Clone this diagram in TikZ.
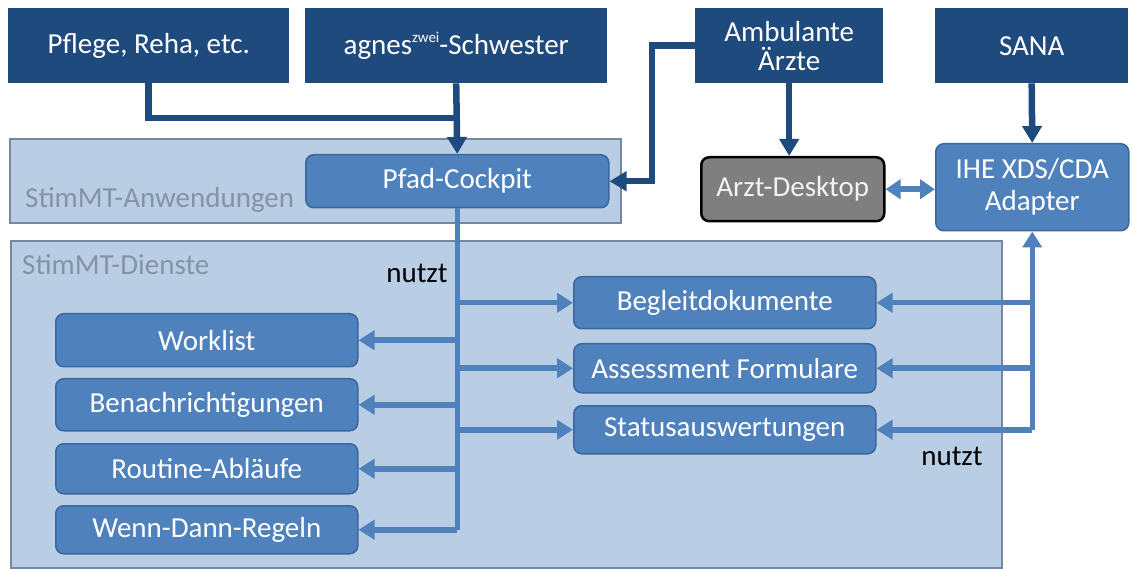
\documentclass[tikz,border=0pt]{standalone}
\usepackage{fontspec}
\setmainfont{Carlito}
\usetikzlibrary{arrows.meta}
\definecolor{navy}{HTML}{1F4A7E}
\definecolor{midblue}{HTML}{4F81BD}
\definecolor{midedge}{HTML}{3A679C}
\definecolor{pale}{HTML}{B9CDE5}
\definecolor{paleedge}{HTML}{7688A0}
\definecolor{labelgray}{HTML}{8593A5}
\definecolor{desk}{HTML}{7F7F7F}
\tikzset{
  box/.style={anchor=north west, inner sep=0pt, text=white,
    font=\fontsize{29}{31}\selectfont, align=center},
  navybox/.style={box, fill=navy},
  svcbox/.style={box, fill=midblue, draw=midedge, line width=1.5pt, rounded corners=8pt},
  deskbox/.style={box, fill=desk, draw=black, line width=2.5pt, rounded corners=8pt, text=white!90!gray},
  container/.style={fill=pale, draw=paleedge, line width=2pt},
  grouplabel/.style={anchor=west, inner sep=0pt, text=labelgray, font=\fontsize{29}{31}\selectfont},
  uses/.style={anchor=center, inner sep=0pt, font=\fontsize{29}{31}\selectfont},
  darkline/.style={draw=navy, line width=6.5pt},
  darkarrow/.style={darkline, -{Triangle[length=17pt, width=19pt]}},
  blueline/.style={draw=midblue, line width=5.5pt},
  bluearrow/.style={blueline, -{Triangle[length=16pt, width=19pt]}},
  bluedouble/.style={blueline, {Triangle[length=15pt, width=19pt]}-{Triangle[length=15pt, width=19pt]}},
}
\begin{document}
\begin{tikzpicture}[x=1pt, y=-1pt]
\useasboundingbox (0,0) rectangle (1133,569);
\fill[white] (0,0) rectangle (1133,569);

% group containers
\node[container, anchor=north west, minimum width=611pt, minimum height=84pt, inner sep=0pt] (anw) at (9,138) {};
\node[container, anchor=north west, minimum width=991pt, minimum height=327pt, inner sep=0pt] (dienste) at (10,240) {};
\node[grouplabel] (anwlabel) at (25,200) {StimMT-Anwendungen};
\node[grouplabel] (dienstelabel) at (22,265) {StimMT-Dienste};

% external actors
\node[navybox, minimum width=281pt, minimum height=75pt] (pflege) at (8,8) {Pflege, Reha, etc.};
\node[navybox, minimum width=302pt, minimum height=75pt] (agnes) at (305,8) {agnes\raisebox{0.42em}{\fontsize{15}{16}\selectfont zwei}-Schwester};
\node[navybox, minimum width=188pt, minimum height=75pt, font=\fontsize{29}{29}\selectfont] (amb) at (695,8) {Ambulante\\Ärzte};
\node[navybox, minimum width=193pt, minimum height=75pt] (sana) at (935,8) {SANA};

% applications
\node[svcbox, minimum width=303pt, minimum height=53pt] (cockpit) at (305,154) {Pfad-Cockpit};
\node[deskbox, minimum width=183pt, minimum height=64pt] (arzt) at (700,156) {Arzt-Desktop};
\node[svcbox, minimum width=193pt, minimum height=87pt, font=\fontsize{29}{32}\selectfont] (ihe) at (935,143) {IHE XDS/CDA\\Adapter};

% services, left column
\node[svcbox, minimum width=302pt, minimum height=53pt] (worklist) at (55,313) {Worklist};
\node[svcbox, minimum width=302pt, minimum height=52pt] (benach) at (55,378) {Benachrichtigungen};
\node[svcbox, minimum width=302pt, minimum height=50pt] (routine) at (55,443) {Routine-Abläufe};
\node[svcbox, minimum width=302pt, minimum height=48pt] (wenn) at (55,505) {Wenn-Dann-Regeln};

% services, right column
\node[svcbox, minimum width=302pt, minimum height=52pt] (begleit) at (573,276) {Begleitdokumente};
\node[svcbox, minimum width=302pt, minimum height=49pt] (assess) at (573,343) {Assessment Formulare};
\node[svcbox, minimum width=302pt, minimum height=48pt] (status) at (573,405) {Statusauswertungen};

\node[uses] (nutzt1) at (417,273) {nutzt};
\node[uses] (nutzt2) at (952,456) {nutzt};

% actors to applications
\coordinate (join) at (agnes.south |- 0,118);
\draw[darkline] (pflege.south) |- (join);
\draw[darkarrow] (agnes.south) -- (cockpit.north);
\coordinate (ambbend) at (652,0 |- amb.west);
\draw[darkarrow] (amb.west) -- (ambbend) |- (cockpit.east);
\draw[darkarrow] (amb.south) -- (arzt.north -| amb.south);
\draw[darkarrow] (sana.south) -- (ihe.north);
\draw[bluedouble] (arzt.east) -- (arzt.east -| ihe.west);

% cockpit uses the services
\coordinate (busend) at (cockpit.south |- wenn.east);
\draw[blueline] (cockpit.south) -- (busend);
\foreach \t in {worklist, benach, routine, wenn}
  \draw[bluearrow] (cockpit.south |- \t.east) -- (\t.east);
\foreach \t in {begleit, assess, status}
  \draw[bluearrow] (cockpit.south |- \t.west) -- (\t.west);

% adapter uses the document services
\coordinate (rbus) at (ihe.south |- status.east);
\draw[bluearrow] (rbus) -- (ihe.south);
\foreach \t in {begleit, assess, status}
  \draw[bluearrow] (ihe.south |- \t.east) -- (\t.east);
\end{tikzpicture}
\end{document}
